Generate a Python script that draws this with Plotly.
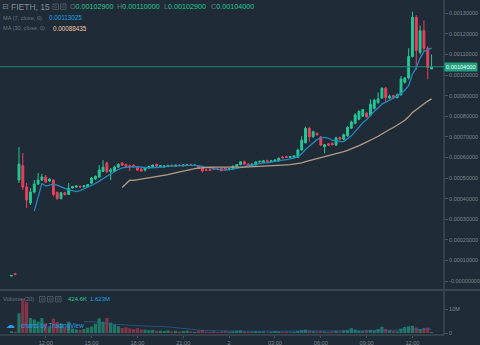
import pandas as pd
import plotly.graph_objects as go

# ---- FIETH 15-minute bars (prices in units of 1e-8 ETH) ----
BAR_START = "2018-03-01 09:45"
BAR_FREQ = "15min"
PRICE_UNIT = 1e-8

opens = [
    2400, 3600, 49000, 56000, 45600, 37900, 43200, 47100, 49000, 50500,
    48500, 49000, 43000, 40000, 42800, 42000, 45200, 45600, 46000, 45700,
    45800, 47500, 49500, 50500, 53200, 57300, 53200, 53200, 55300, 57300,
    56500, 56000, 56200, 55100, 54400, 53900, 54900, 55400, 56600, 55600,
    55300, 55600, 56000, 55700, 56200, 55900, 56200, 56400, 56100, 55800,
    54800, 54000, 54100, 55000, 54300, 54700, 54900, 54000, 54500, 55600,
    56500, 57900, 56800, 55800, 56300, 57800, 57500, 58400, 58000, 58000,
    58300, 60200, 60400, 60000, 60000, 60000, 63600, 67100, 74100, 70000,
    71600, 70000, 65200, 66600, 66800, 66000, 69600, 68800, 70500, 74200,
    76600, 78500, 80000, 81500, 80500, 83800, 86600, 88800, 93600, 88800,
    90000, 89000, 90400, 96500, 98500, 109000, 128000, 111000, 121500, 113000,
    102900,
]
highs = [
    2800, 3700, 65000, 62100, 47600, 45100, 49000, 52400, 52000, 51500,
    49800, 49500, 43500, 43200, 43300, 47500, 46200, 46500, 46300, 46400,
    47000, 50500, 51200, 56300, 58700, 58000, 54800, 56000, 57200, 57800,
    57000, 56500, 56600, 55600, 54800, 55200, 56000, 56500, 57000, 56200,
    56200, 56400, 56600, 56500, 56800, 56600, 56800, 57000, 56600, 56200,
    55200, 54500, 54600, 55300, 54800, 54900, 55200, 54800, 56000, 56800,
    58200, 58400, 57200, 57100, 58100, 58400, 58800, 58900, 58800, 59200,
    60000, 60600, 60800, 60800, 61200, 64200, 70300, 75000, 74900, 73000,
    72200, 70300, 66500, 67000, 67200, 70000, 70200, 71600, 75200, 77800,
    81500, 82800, 83400, 82000, 88200, 88500, 91500, 94000, 94200, 90500,
    90400, 91000, 99500, 99000, 113000, 130800, 129000, 124000, 126400, 114000,
    110000,
]
lows = [
    2300, 3100, 47600, 44200, 35400, 36900, 42500, 46600, 48500, 47500,
    48000, 41000, 39300, 39600, 41500, 41800, 44800, 45200, 45300, 45400,
    45500, 47000, 49000, 50000, 52800, 52500, 49000, 53000, 54800, 56000,
    55200, 53400, 55000, 53500, 53000, 53200, 54600, 55200, 55400, 55200,
    55000, 55200, 55600, 55500, 55800, 55600, 55800, 56000, 55700, 54300,
    52600, 53400, 53500, 53800, 53800, 53300, 53600, 53700, 54200, 55300,
    56200, 56400, 55400, 55500, 56000, 57500, 57200, 57600, 57700, 57800,
    58000, 59500, 59700, 59700, 59800, 59800, 63200, 66800, 67600, 69500,
    70500, 65500, 62000, 65500, 65700, 65600, 68200, 68400, 70000, 73800,
    76000, 78000, 79600, 79200, 80000, 83200, 86000, 88400, 86800, 88200,
    88600, 88600, 90000, 95800, 97800, 108500, 102500, 110000, 111500, 97900,
    102900,
]
closes = [
    2700, 3200, 56800, 45600, 39300, 43200, 47100, 49000, 50500, 48000,
    49500, 42000, 40000, 42800, 42000, 45000, 45800, 46100, 45600, 46200,
    46800, 50000, 50800, 53900, 55300, 53000, 54000, 55300, 56600, 56200,
    55600, 55300, 55500, 53800, 53400, 54900, 55600, 56300, 55800, 56000,
    55800, 56100, 55700, 56200, 56000, 56300, 56400, 56100, 56300, 54600,
    53400, 53800, 53700, 54200, 54100, 53500, 54000, 54500, 55800, 56500,
    57900, 56700, 55800, 56800, 57800, 58100, 58400, 57900, 58400, 58700,
    59600, 59800, 60000, 60400, 60700, 63600, 68400, 74100, 70000, 72500,
    71000, 65975, 66200, 66000, 66200, 69500, 68800, 71000, 74500, 77200,
    80600, 82400, 83200, 79800, 85800, 87800, 88400, 93600, 89000, 89800,
    89200, 90400, 98000, 98500, 109000, 128000, 112000, 121500, 113000, 103675,
    104000,
]
volumes = [
    800000, 500000, 8200000, 14400000, 12800000, 6300000, 5600000, 4800000, 6200000, 4100000,
    2700000, 6000000, 4600000, 3900000, 2300000, 4700000, 1900000, 1500000, 1300000, 1700000,
    2200000, 2700000, 3900000, 6100000, 4700000, 6300000, 4300000, 3600000, 2800000, 2100000,
    2400000, 1900000, 1600000, 2000000, 1500000, 1400000, 1200000, 1300000, 900000, 1000000,
    800000, 1100000, 700000, 900000, 600000, 800000, 1000000, 700000, 500000, 900000,
    1200000, 600000, 500000, 700000, 400000, 600000, 800000, 500000, 700000, 900000,
    1100000, 600000, 500000, 400000, 700000, 500000, 600000, 300000, 500000, 800000,
    600000, 400000, 500000, 300000, 400000, 900000, 1200000, 1400000, 1000000, 700000,
    600000, 800000, 500000, 400000, 600000, 900000, 600000, 1000000, 1200000, 2000000,
    1400000, 850000, 750000, 1150000, 1300000, 1100000, 1650000, 2600000, 1650000, 1100000,
    785400, 650000, 1850000, 2500000, 2800000, 3000000, 2250000, 1650000, 2150000, 2250000,
    424600,
]

price_ticks = [0.0, 0.0001, 0.0002, 0.0003, 0.0004, 0.0005, 0.0006,
               0.0007, 0.0008, 0.0009, 0.0010, 0.0011, 0.0012, 0.0013]
price_tick_text = ["-0.00000000", "0.00010000", "0.00020000", "0.00030000",
                   "0.00040000", "0.00050000", "0.00060000", "0.00070000",
                   "0.00080000", "0.00090000", "0.00100000", "0.00110000",
                   "0.00120000", "0.00130000"]
time_ticks = ["2018-03-01 12:00", "2018-03-01 15:00", "2018-03-01 18:00",
              "2018-03-01 21:00", "2018-03-02 00:00", "2018-03-02 03:00",
              "2018-03-02 06:00", "2018-03-02 09:00", "2018-03-02 12:00"]
time_tick_text = ["12:00", "15:00", "18:00", "21:00", "2",
                  "03:00", "06:00", "09:00", "12:00"]
volume_ticks = [0, 10_000_000]
volume_tick_text = ["0", "10M"]

# ---- derived series ----
times = pd.date_range(BAR_START, periods=len(closes), freq=BAR_FREQ)
o = pd.Series(opens) * PRICE_UNIT
h = pd.Series(highs) * PRICE_UNIT
l = pd.Series(lows) * PRICE_UNIT
c = pd.Series(closes) * PRICE_UNIT
v = pd.Series(volumes, dtype=float)
ma7 = c.rolling(7).mean()
ma30 = c.rolling(30).mean()
vol_ma20 = v.rolling(20).mean()

# ---- palette ----
BG = "#1f2b37"
UP = "#22c997"
DOWN = "#ef3f5e"
UP_VOL = "rgba(34,201,151,0.48)"
DOWN_VOL = "rgba(239,63,94,0.48)"
MA7_COLOR = "#2289bd"
MA30_COLOR = "#b49c85"
AXIS = "#4b5661"
TICK_TEXT = "#7d8790"
LEGEND_GRAY = "#6c767f"
FONT = "Liberation Sans, Arial, sans-serif"

W, H = 480, 345
PANE_RIGHT = 444 / W


def px(xp):
    return xp / W


def py(yp):
    return 1 - yp / H


fig = go.Figure()

fig.add_trace(go.Candlestick(
    x=times, open=o, high=h, low=l, close=c,
    increasing=dict(line=dict(color=UP, width=1), fillcolor=UP),
    decreasing=dict(line=dict(color=DOWN, width=1), fillcolor=DOWN),
    whiskerwidth=0, xaxis="x", yaxis="y", hoverinfo="skip",
))
fig.add_trace(go.Scatter(x=times, y=ma7, mode="lines",
                         line=dict(color=MA7_COLOR, width=1.3),
                         xaxis="x", yaxis="y", hoverinfo="skip"))
fig.add_trace(go.Scatter(x=times, y=ma30, mode="lines",
                         line=dict(color=MA30_COLOR, width=1.3),
                         xaxis="x", yaxis="y", hoverinfo="skip"))

vol_colors = [UP_VOL if cl >= op else DOWN_VOL for op, cl in zip(opens, closes)]
fig.add_trace(go.Bar(x=times, y=v, marker=dict(color=vol_colors, line=dict(width=0)),
                     xaxis="x", yaxis="y2", hoverinfo="skip"))
fig.add_trace(go.Scatter(x=times, y=vol_ma20, mode="lines",
                         line=dict(color="rgba(40,110,170,0.6)", width=1),
                         xaxis="x", yaxis="y2", hoverinfo="skip"))

fig.update_layout(
    width=W, height=H,
    margin=dict(l=0, r=0, t=0, b=0),
    paper_bgcolor=BG, plot_bgcolor=BG,
    showlegend=False, bargap=0.15,
    font=dict(family=FONT, color=TICK_TEXT),
    xaxis=dict(
        domain=[0, PANE_RIGHT], anchor="y2", type="date",
        range=["2018-03-01 09:00:24", "2018-03-02 14:03:50"],
        tickvals=time_ticks, ticktext=time_tick_text,
        tickfont=dict(size=5.6, color=TICK_TEXT, family=FONT),
        ticks="outside", ticklen=2, tickcolor=AXIS,
        showgrid=False, zeroline=False, showline=False,
        rangeslider=dict(visible=False),
    ),
    yaxis=dict(
        domain=[55 / H, 1], anchor="x", side="right",
        range=[-0.0000437, 0.0013641],
        tickvals=price_ticks, ticktext=price_tick_text,
        tickfont=dict(size=5.5, color=TICK_TEXT, family=FONT),
        ticks="outside", ticklen=3, tickcolor=AXIS,
        showgrid=False, zeroline=False, showline=False,
    ),
    yaxis2=dict(
        domain=[10 / H, 54 / H], anchor="x", side="right",
        range=[-0.833e6, 17.5e6],
        tickvals=volume_ticks, ticktext=volume_tick_text,
        tickfont=dict(size=5.5, color=TICK_TEXT, family=FONT),
        ticks="outside", ticklen=3, tickcolor=AXIS,
        showgrid=False, zeroline=False, showline=False,
    ),
)

# pane frame lines
fig.add_shape(type="line", xref="paper", yref="paper",
              x0=PANE_RIGHT, x1=PANE_RIGHT, y0=py(335), y1=1,
              line=dict(color=AXIS, width=1))
fig.add_shape(type="line", xref="paper", yref="paper",
              x0=0, x1=1, y0=py(290), y1=py(290),
              line=dict(color="#3a4550", width=2))
fig.add_shape(type="line", xref="paper", yref="paper",
              x0=0, x1=PANE_RIGHT, y0=py(335), y1=py(335),
              line=dict(color=AXIS, width=1))

# last price line and its axis tag
last_close = c.iloc[-1]
fig.add_shape(type="line", xref="paper", yref="y",
              x0=0, x1=PANE_RIGHT, y0=last_close, y1=last_close,
              line=dict(color="#1c8d77", width=1))
fig.add_annotation(x=PANE_RIGHT, y=last_close, xref="paper", yref="y",
                   text=f"{last_close:.8f}", showarrow=False,
                   xanchor="left", yanchor="middle", bgcolor="#21a282",
                   borderpad=1, font=dict(size=5.6, color="#f2fbf8", family=FONT))


def label(x, y, text, size, color, family=FONT):
    fig.add_annotation(x=px(x), y=py(y), xref="paper", yref="paper",
                       text=text, showarrow=False, xanchor="left",
                       yanchor="middle", borderpad=0,
                       font=dict(size=size, color=color, family=family))


def icon_box(x0, y0, x1, y1):
    fig.add_shape(type="rect", xref="paper", yref="paper",
                  x0=px(x0), x1=px(x1), y0=py(y1), y1=py(y0),
                  line=dict(color="#56606a", width=0.8))
    cx, cy = (x0 + x1) / 2, (y0 + y1) / 2
    fig.add_shape(type="circle", xref="paper", yref="paper",
                  x0=px(cx - 1.2), x1=px(cx + 1.2), y0=py(cy + 1.2), y1=py(cy - 1.2),
                  line=dict(color="#56606a", width=0.7))


# symbol header
label(0.5, 7, "⊟", 8, "#7d868e", "DejaVu Sans, sans-serif")
label(10, 7, "FIETH, 15", 8.5, "#858e96")
icon_box(53, 4, 58.5, 9.5)
icon_box(60.5, 4, 66, 9.5)
for xpos, key, val in [(69, "O", opens[-1]), (116, "H", highs[-1]),
                       (163, "L", lows[-1]), (210, "C", closes[-1])]:
    label(xpos, 7, f"<span style='color:{LEGEND_GRAY}'>{key}</span>"
                   f"<span style='color:{UP}'>{val * PRICE_UNIT:.8f}</span>", 7.2, UP)

label(2, 17.5, "MA (7, close, 0)", 5.6, LEGEND_GRAY)
label(48, 17.5, f"{ma7.iloc[-1]:.8f}", 6.3, "#19a3e6")
label(2, 28, "MA (30, close, 0)", 5.6, LEGEND_GRAY)
label(52, 28, f"{ma30.iloc[-1]:.8f}", 6.3, "#f2c9a6")

# volume pane header
label(2, 299, "Volume (20)", 5.8, LEGEND_GRAY)
icon_box(39.5, 296.5, 45, 302)
icon_box(47.5, 296.5, 53, 302)
icon_box(55.5, 296.5, 61, 302)
label(67, 299, f"{volumes[-1] / 1000:.1f}K", 6, UP)
label(89, 299, f"{vol_ma20.iloc[-1] / 1e6:.3f}M", 6, "#19a3e6")

# watermark
label(5, 325, "☁", 9, "#2b9be0", "DejaVu Sans, sans-serif")
label(20, 325.5, "charts by TradingView", 6.4, "#2b9be0")

fig.write_html("out.html")
